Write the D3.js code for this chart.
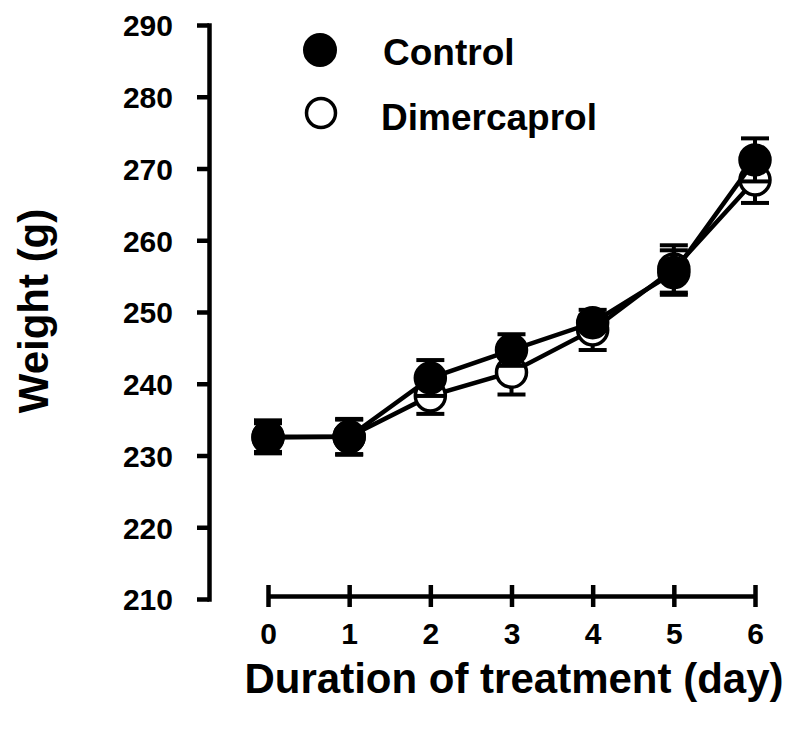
<!DOCTYPE html>
<html><head><meta charset="utf-8">
<script src="https://cdn.jsdelivr.net/npm/d3@7"></script>
<style>
body{margin:0;background:#fff;}
text{font-family:"Liberation Sans",Arial,Helvetica,sans-serif;font-weight:bold;fill:#000;}
</style></head>
<body><svg id="c" width="800" height="736"></svg>
<script>
const days = [0,1,2,3,4,5,6];
const controlMean = [232.6,232.6,240.8,244.7,248.5,255.5,271.2];
const controlSE   = [2.3,2.5,2.5,2.2,1.0,3.1,3.0];
const dimerMean   = [232.5,232.6,238.3,241.6,247.5,256.0,268.4];
const dimerSE     = [2.0,2.4,2.5,3.1,2.8,3.3,3.2];
const yTicks = [210,220,230,240,250,260,270,280,290];
const xTicks = [0,1,2,3,4,5,6];
const seriesNames = ["Control","Dimercaprol"];
const xTitle = "Duration of treatment (day)";
const yTitle = "Weight (g)";

const svg = d3.select("#c");
const x = d3.scaleLinear().domain([0,6]).range([268,755]);
const y = d3.scaleLinear().domain([210,290]).range([599,25]);

// Y axis
const yAxis = svg.append("g").attr("transform","translate(209,0)")
  .call(d3.axisLeft(y).tickValues(yTicks).tickFormat(d3.format("d")).tickSize(12).tickPadding(24).tickSizeOuter(0));
yAxis.select(".domain").attr("stroke","#000").attr("stroke-width",4.5).attr("stroke-linecap","square");
yAxis.selectAll(".tick line").attr("stroke","#000").attr("stroke-width",4.5);
yAxis.selectAll(".tick text").attr("font-size",30).attr("dy","0.36em").attr("fill","#000");

// X axis
const xAxis = svg.append("g").attr("transform","translate(0,596)")
  .call(d3.axisBottom(x).tickValues(xTicks).tickFormat(d3.format("d")).tickSize(11).tickPadding(16).tickSizeOuter(0));
xAxis.select(".domain").attr("stroke","#000").attr("stroke-width",4.5);
xAxis.selectAll(".tick line").attr("stroke","#000").attr("stroke-width",4.5).attr("y1",-11);
xAxis.selectAll(".tick text").attr("font-size",30).attr("fill","#000");

// Titles
svg.append("text").attr("x",514).attr("y",693).attr("text-anchor","middle")
  .attr("font-size",42).text(xTitle);
svg.append("text").attr("transform","translate(48,311) rotate(-90)").attr("text-anchor","middle")
  .attr("font-size",42).text(yTitle);

const r = 15;
const capW = 14;
function drawSeries(mean, se, filled){
  const g = svg.append("g");
  const data = days.map((d,i)=>({d, m:mean[i], s:se[i]}));
  data.forEach(p=>{
    g.append("line").attr("x1",x(p.d)).attr("x2",x(p.d)).attr("y1",y(p.m-p.s)).attr("y2",y(p.m+p.s))
      .attr("stroke","#000").attr("stroke-width",4);
    [p.m-p.s,p.m+p.s].forEach(v=>{
      g.append("line").attr("x1",x(p.d)-capW).attr("x2",x(p.d)+capW).attr("y1",y(v)).attr("y2",y(v))
        .attr("stroke","#000").attr("stroke-width",4);
    });
  });
  g.append("path").datum(data).attr("fill","none").attr("stroke","#000").attr("stroke-width",4.5)
    .attr("d",d3.line().x(p=>x(p.d)).y(p=>y(p.m)));
  g.selectAll("circle").data(data).join("circle")
    .attr("cx",p=>x(p.d)).attr("cy",p=>y(p.m)).attr("r",r)
    .attr("fill",filled?"#000":"#fff").attr("stroke","#000").attr("stroke-width",3.5);
}
drawSeries(dimerMean, dimerSE, false);
drawSeries(controlMean, controlSE, true);

// Legend
const leg = svg.append("g");
leg.append("circle").attr("cx",320).attr("cy",50).attr("r",15.5).attr("fill","#000").attr("stroke","#000").attr("stroke-width",3);
leg.append("text").attr("x",383).attr("y",65).attr("font-size",37).text(seriesNames[0]);
leg.append("circle").attr("cx",321).attr("cy",113).attr("r",14.5).attr("fill","#fff").attr("stroke","#000").attr("stroke-width",3.5);
leg.append("text").attr("x",381).attr("y",130).attr("font-size",37).text(seriesNames[1]);
</script></body></html>
